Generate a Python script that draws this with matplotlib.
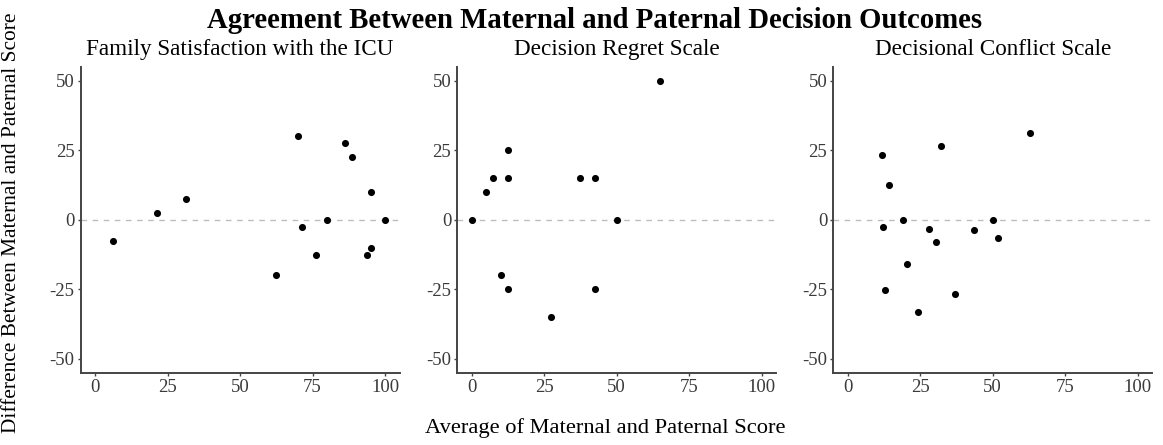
import matplotlib
matplotlib.use("Agg")
import matplotlib.pyplot as plt

plt.rcParams['font.family'] = ['Liberation Serif', 'DejaVu Serif']

panel_titles = ["Family Satisfaction with the ICU", "Decision Regret Scale", "Decisional Conflict Scale"]

fs_avg = [6.25, 21.25, 31.25, 62.5, 70, 71.25, 76.25, 80, 86.25, 88.75, 95, 95, 93.75, 100]
fs_diff = [-7.5, 2.5, 7.5, -20, 30, -2.5, -12.5, 0, 27.5, 22.5, 10, -10, -12.5, 0]

dr_avg = [0, 5, 7.5, 12.5, 12.5, 10, 12.5, 27.5, 37.5, 42.5, 42.5, 50, 65]
dr_diff = [0, 10, 15, 25, 15, -20, -25, -35, 15, 15, -25, 0, 50]

dc_avg = [11.9, 14.2, 12.3, 18.9, 12.7, 20.5, 24.3, 28.2, 30.5, 32.1, 36.9, 43.7, 50.2, 51.7, 62.7]
dc_diff = [23.4, 12.5, -2.5, 0, -25.2, -16, -33, -3.2, -7.9, 26.6, -26.7, -3.7, 0, -6.4, 31.2]

x_ticks = [0, 25, 50, 75, 100]
y_ticks = [-50, -25, 0, 25, 50]

data = [(fs_avg, fs_diff), (dr_avg, dr_diff), (dc_avg, dc_diff)]

W, H = 1163, 445
fig = plt.figure(figsize=(W / 100, H / 100), dpi=100)

lefts = [80.5, 457.2, 833.2]
axw = 319
bottom = 72.3
top = 66.9
axh = H - bottom - top

spine_col = '#444444'
for i, (left, (xs, ys)) in enumerate(zip(lefts, data)):
    ax = fig.add_axes([left / W, bottom / H, axw / W, axh / H])
    ax.axhline(0, color='#bdbdbd', linestyle=(0, (4, 4)), linewidth=1.0, zorder=1)
    ax.scatter(xs, ys, s=26, color='black', zorder=3, linewidths=0)
    ax.set_xlim(-5, 105)
    ax.set_ylim(-55, 55)
    ax.set_xticks(x_ticks)
    ax.set_yticks(y_ticks)
    ax.set_xticklabels([str(t) for t in x_ticks])
    ax.set_yticklabels([str(t) for t in y_ticks])
    for s in ['top', 'right']:
        ax.spines[s].set_visible(False)
    for s in ['left', 'bottom']:
        ax.spines[s].set_color(spine_col)
        ax.spines[s].set_linewidth(1.4)
    ax.tick_params(axis='both', colors=spine_col, length=2.2, width=1.0,
                   labelsize=13.5, labelcolor='#3a3a3a', pad=2)
    ax.set_title(panel_titles[i], fontsize=16.7, pad=8.5)

fig.text(595 / W, 1 - 28 / H, "Agreement Between Maternal and Paternal Decision Outcomes",
         ha='center', va='baseline', fontsize=20.7, fontweight='bold')
fig.text(12 / W, 1 - 222.5 / H, "Difference Between Maternal and Paternal Score",
         ha='center', va='center', rotation=90, fontsize=15.4)
fig.text(605 / W, 1 - 428 / H, "Average of Maternal and Paternal Score",
         ha='center', va='center', fontsize=16.2)

fig.savefig("out.png", dpi=100, facecolor='white')
